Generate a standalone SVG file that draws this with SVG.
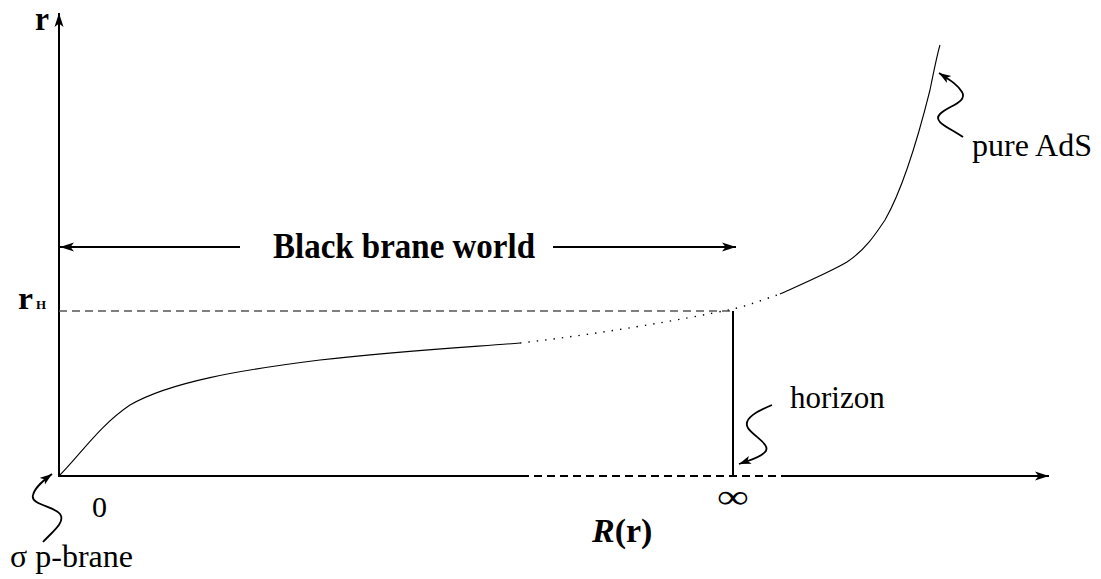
<svg xmlns="http://www.w3.org/2000/svg" width="1101" height="579" viewBox="0 0 1101 579">
<defs>
<marker id="ah" markerUnits="userSpaceOnUse" markerWidth="16" markerHeight="10" refX="14" refY="5" orient="auto">
<path d="M0,0.5 L14,5 L0,9.5 L3.5,5 Z" fill="#000"/>
</marker>
<marker id="sq" markerUnits="userSpaceOnUse" markerWidth="14" markerHeight="10" refX="12" refY="5" orient="auto">
<path d="M0,0.8 L12,5 L0,9.2 L3,5 Z" fill="#000"/>
</marker>
</defs>
<style>
.ax{stroke:#000;stroke-width:2;fill:none}
.cv{stroke:#000;stroke-width:1.1;fill:none}
.dot{stroke:#000;stroke-width:1.4;fill:none;stroke-dasharray:1.4 7}
.dsh{stroke:#555;stroke-width:1.3;fill:none;stroke-dasharray:8 5}
.sqg{stroke:#000;stroke-width:1.8;fill:none}
.t{font-family:"Liberation Serif","Times New Roman",serif;fill:#000}
.b{font-weight:bold}
</style>
<rect width="1101" height="579" fill="#fff"/>
<g id="connectors">
<line class="ax" x1="59" y1="477" x2="59" y2="13" marker-end="url(#ah)"/>
<line class="ax" x1="59" y1="476" x2="521" y2="476"/>
<line class="ax" x1="521" y1="476" x2="782" y2="476" style="stroke-dasharray:8 5"/>
<line class="ax" x1="782" y1="476" x2="1049" y2="476" marker-end="url(#ah)"/>
<line class="dsh" x1="59" y1="311" x2="733" y2="311"/>
<line class="ax" x1="733" y1="311" x2="733" y2="476"/>
<line class="ax" x1="240" y1="247" x2="60" y2="247" style="stroke-width:1.8" marker-end="url(#ah)"/>
<line class="ax" x1="553" y1="247" x2="736" y2="247" style="stroke-width:1.8" marker-end="url(#ah)"/>
<path class="cv" d="M59,476 C80,455 100,425 130,405 C170,382 240,370 320,360 C400,351 470,347 520,343"/>
<path class="dot" d="M520,343 C600,334 680,320 733,309 C750,305 765,299 780,294"/>
<path class="cv" d="M780,294 C800,285 830,272 847,262 C865,250 875,235 885,220 C905,185 920,130 930,90 C934,70 937,55 940,45"/>
<path class="sqg" d="M963,137 C950,128 932,122 940,114 C948,106 968,102 962,92 C957,84 950,80 939,73" marker-end="url(#sq)"/>
<path class="sqg" d="M772,405 C760,410 742,418 748,428 C753,436 772,445 765,452 C760,458 750,460 739,464" marker-end="url(#sq)"/>
<path class="sqg" d="M43,542 C52,532 66,522 60,514 C54,506 30,505 33,495 C35,487 44,480 52,474" marker-end="url(#sq)"/>
</g>
<g id="label-r"><text class="t b" x="35" y="30" font-size="34" textLength="14" lengthAdjust="spacingAndGlyphs">r</text></g>
<g id="label-rH"><text class="t b" x="18" y="309" font-size="32" textLength="15" lengthAdjust="spacingAndGlyphs">r</text><text class="t b" x="36" y="309" font-size="13">H</text></g>
<g id="label-bbw"><text class="t b" x="273" y="258" font-size="36" textLength="262" lengthAdjust="spacingAndGlyphs">Black brane world</text></g>
<g id="label-ads"><text class="t" x="972" y="156" font-size="31" textLength="120" lengthAdjust="spacingAndGlyphs">pure AdS</text></g>
<g id="label-horizon"><text class="t" x="790" y="408" font-size="31">horizon</text></g>
<g id="label-zero"><text class="t" x="92" y="517" font-size="30">0</text></g>
<g id="label-inf"><text class="t" x="717" y="508" font-size="34" textLength="32" lengthAdjust="spacingAndGlyphs">∞</text></g>
<g id="label-R"><text class="t b" x="592" y="542" font-size="34"><tspan font-style="italic">R</tspan>(r)</text></g>
<g id="label-sigma"><text class="t" x="10" y="567" font-size="31" textLength="123" lengthAdjust="spacingAndGlyphs">σ p-brane</text></g>
</svg>
